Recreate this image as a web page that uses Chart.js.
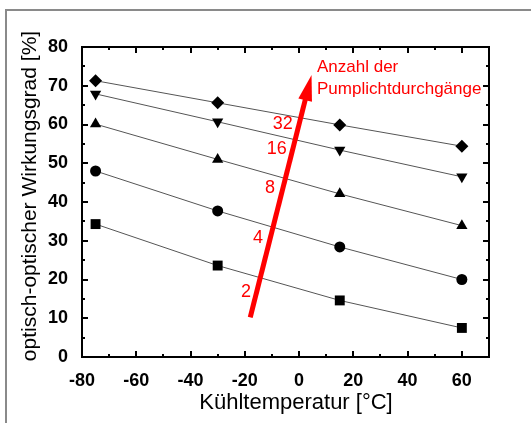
<!DOCTYPE html>
<html>
<head>
<meta charset="utf-8">
<script src="https://cdn.jsdelivr.net/npm/chart.js@4"></script>
<style>
  html, body { margin: 0; padding: 0; background: #fff; }
  #wrap { width: 531px; height: 423px; position: relative; }
</style>
</head>
<body>
<div id="wrap"><canvas id="chart"></canvas></div>
<script>
// Kühltemperatur [°C]
const temps = [-75, -30, 15, 60];
// Wirkungsgrad [%] per Anzahl der Pumplichtdurchgänge
const passes2 = [34.3, 23.6, 14.6, 7.5];
const passes4 = [48.0, 37.7, 28.4, 20.0];
const passes8 = [60.1, 51.0, 42.1, 33.9];
const passes16 = [67.9, 60.7, 53.4, 46.5];
const passes32 = [71.3, 65.6, 59.9, 54.4];

const xTicks = [-80, -60, -40, -20, 0, 20, 40, 60];
const yTicks = [0, 10, 20, 30, 40, 50, 60, 70, 80];

// arrow (data units) and its labels
const arrowFrom = [-18, 10.2];
const arrowTo = [4.6, 72.8];
const passLabels = ['2', '4', '8', '16', '32'];
const passLabelPos = [[-17.7, 16.8], [-13.3, 30.7], [-8.9, 43.6], [-4.5, 53.7], [-2.3, 60.1]];

const FONT = '"Liberation Sans", Arial, sans-serif';
const pts = (ys) => temps.map((t, i) => ({ x: t, y: ys[i] }));

function series(ys, style, radius, rotation) {
  return {
    data: pts(ys),
    borderColor: '#555',
    borderWidth: 1,
    pointStyle: style,
    pointRadius: radius,
    pointRotation: rotation || 0,
    pointBackgroundColor: '#000',
    pointBorderColor: '#000',
    pointBorderWidth: 0,
    tension: 0
  };
}

const frame = {
  id: 'frame',
  afterDraw(chart) {
    const ctx = chart.ctx;
    const a = chart.chartArea;
    const xs = chart.scales.x, ys = chart.scales.y;
    ctx.save();
    // outer figure border
    ctx.strokeStyle = '#8a8a8a';
    ctx.lineWidth = 2;
    ctx.beginPath();
    ctx.moveTo(6, 423);
    ctx.lineTo(6, 10);
    ctx.lineTo(531, 10);
    ctx.stroke();

    // plot frame
    ctx.strokeStyle = '#000';
    ctx.lineWidth = 2;
    ctx.strokeRect(a.left, a.top, a.right - a.left, a.bottom - a.top);

    // inward ticks on all four sides
    ctx.beginPath();
    for (let v = -80; v <= 70; v += 10) {
      const px = Math.round(xs.getPixelForValue(v));
      const len = v % 20 === 0 ? 6 : 3;
      ctx.moveTo(px, a.bottom); ctx.lineTo(px, a.bottom - len);
      ctx.moveTo(px, a.top); ctx.lineTo(px, a.top + len);
    }
    for (let v = 0; v <= 80; v += 5) {
      const py = Math.round(ys.getPixelForValue(v));
      const len = v % 10 === 0 ? 6 : 3;
      ctx.moveTo(a.left, py); ctx.lineTo(a.left + len, py);
      ctx.moveTo(a.right, py); ctx.lineTo(a.right - len, py);
    }
    ctx.stroke();

    // axis titles
    ctx.fillStyle = '#000';
    ctx.font = '22px ' + FONT;
    ctx.textAlign = 'center';
    ctx.textBaseline = 'middle';
    ctx.fillText('Kühltemperatur [°C]', 296, 403);
    ctx.font = '21px ' + FONT;
    ctx.translate(30, 196);
    ctx.rotate(-Math.PI / 2);
    ctx.fillText('optisch-optischer Wirkungsgrad [%]', 0, 0);
    ctx.restore();

    // red arrow
    ctx.save();
    const x0 = xs.getPixelForValue(arrowFrom[0]), y0 = ys.getPixelForValue(arrowFrom[1]);
    const x1 = xs.getPixelForValue(arrowTo[0]), y1 = ys.getPixelForValue(arrowTo[1]);
    const ang = Math.atan2(y1 - y0, x1 - x0);
    const headLen = 26, headHalf = 7;
    const bx = x1 - Math.cos(ang) * headLen, by = y1 - Math.sin(ang) * headLen;
    ctx.strokeStyle = '#ff0000';
    ctx.fillStyle = '#ff0000';
    ctx.lineWidth = 5;
    ctx.beginPath();
    ctx.moveTo(x0, y0);
    ctx.lineTo(bx + Math.cos(ang) * 2, by + Math.sin(ang) * 2);
    ctx.stroke();
    ctx.beginPath();
    ctx.moveTo(x1, y1);
    ctx.lineTo(bx - Math.sin(ang) * headHalf, by + Math.cos(ang) * headHalf);
    ctx.lineTo(bx + Math.sin(ang) * headHalf, by - Math.cos(ang) * headHalf);
    ctx.closePath();
    ctx.fill();

    ctx.font = '18px ' + FONT;
    ctx.textAlign = 'right';
    ctx.textBaseline = 'middle';
    passLabels.forEach((t, i) => {
      ctx.fillText(t, xs.getPixelForValue(passLabelPos[i][0]), ys.getPixelForValue(passLabelPos[i][1]));
    });
    ctx.font = '17px ' + FONT;
    ctx.textAlign = 'left';
    ctx.fillText('Anzahl der', 317, 67);
    ctx.fillText('Pumplichtdurchgänge', 317, 89);
    ctx.restore();
  }
};

new Chart(document.getElementById('chart'), {
  type: 'line',
  data: {
    datasets: [
      series(passes2, 'rect', 7),
      series(passes4, 'circle', 5.5),
      series(passes8, 'triangle', 6.5),
      series(passes16, 'triangle', 6.5, 180),
      series(passes32, 'rectRot', 6.5)
    ]
  },
  options: {
    responsive: true,
    maintainAspectRatio: false,
    animation: false,
    layout: { padding: { left: 0, top: 47, right: 42, bottom: 0 } },
    plugins: { legend: { display: false }, tooltip: { enabled: false } },
    scales: {
      x: {
        type: 'linear',
        min: -80,
        max: 70,
        grid: { display: false },
        border: { display: false },
        afterBuildTicks: (s) => { s.ticks = xTicks.map(v => ({ value: v })); },
        afterFit: (s) => { s.height = 66; },
        ticks: {
          padding: 5,
          maxRotation: 0,
          color: '#000',
          font: { family: FONT, size: 18, weight: 'bold' }
        }
      },
      y: {
        type: 'linear',
        min: 0,
        max: 80,
        grid: { display: false },
        border: { display: false },
        afterBuildTicks: (s) => { s.ticks = yTicks.map(v => ({ value: v })); },
        afterFit: (s) => { s.width = 82; },
        ticks: {
          padding: 6,
          color: '#000',
          font: { family: FONT, size: 18, weight: 'bold' }
        }
      }
    }
  },
  plugins: [frame]
});
</script>
</body>
</html>
